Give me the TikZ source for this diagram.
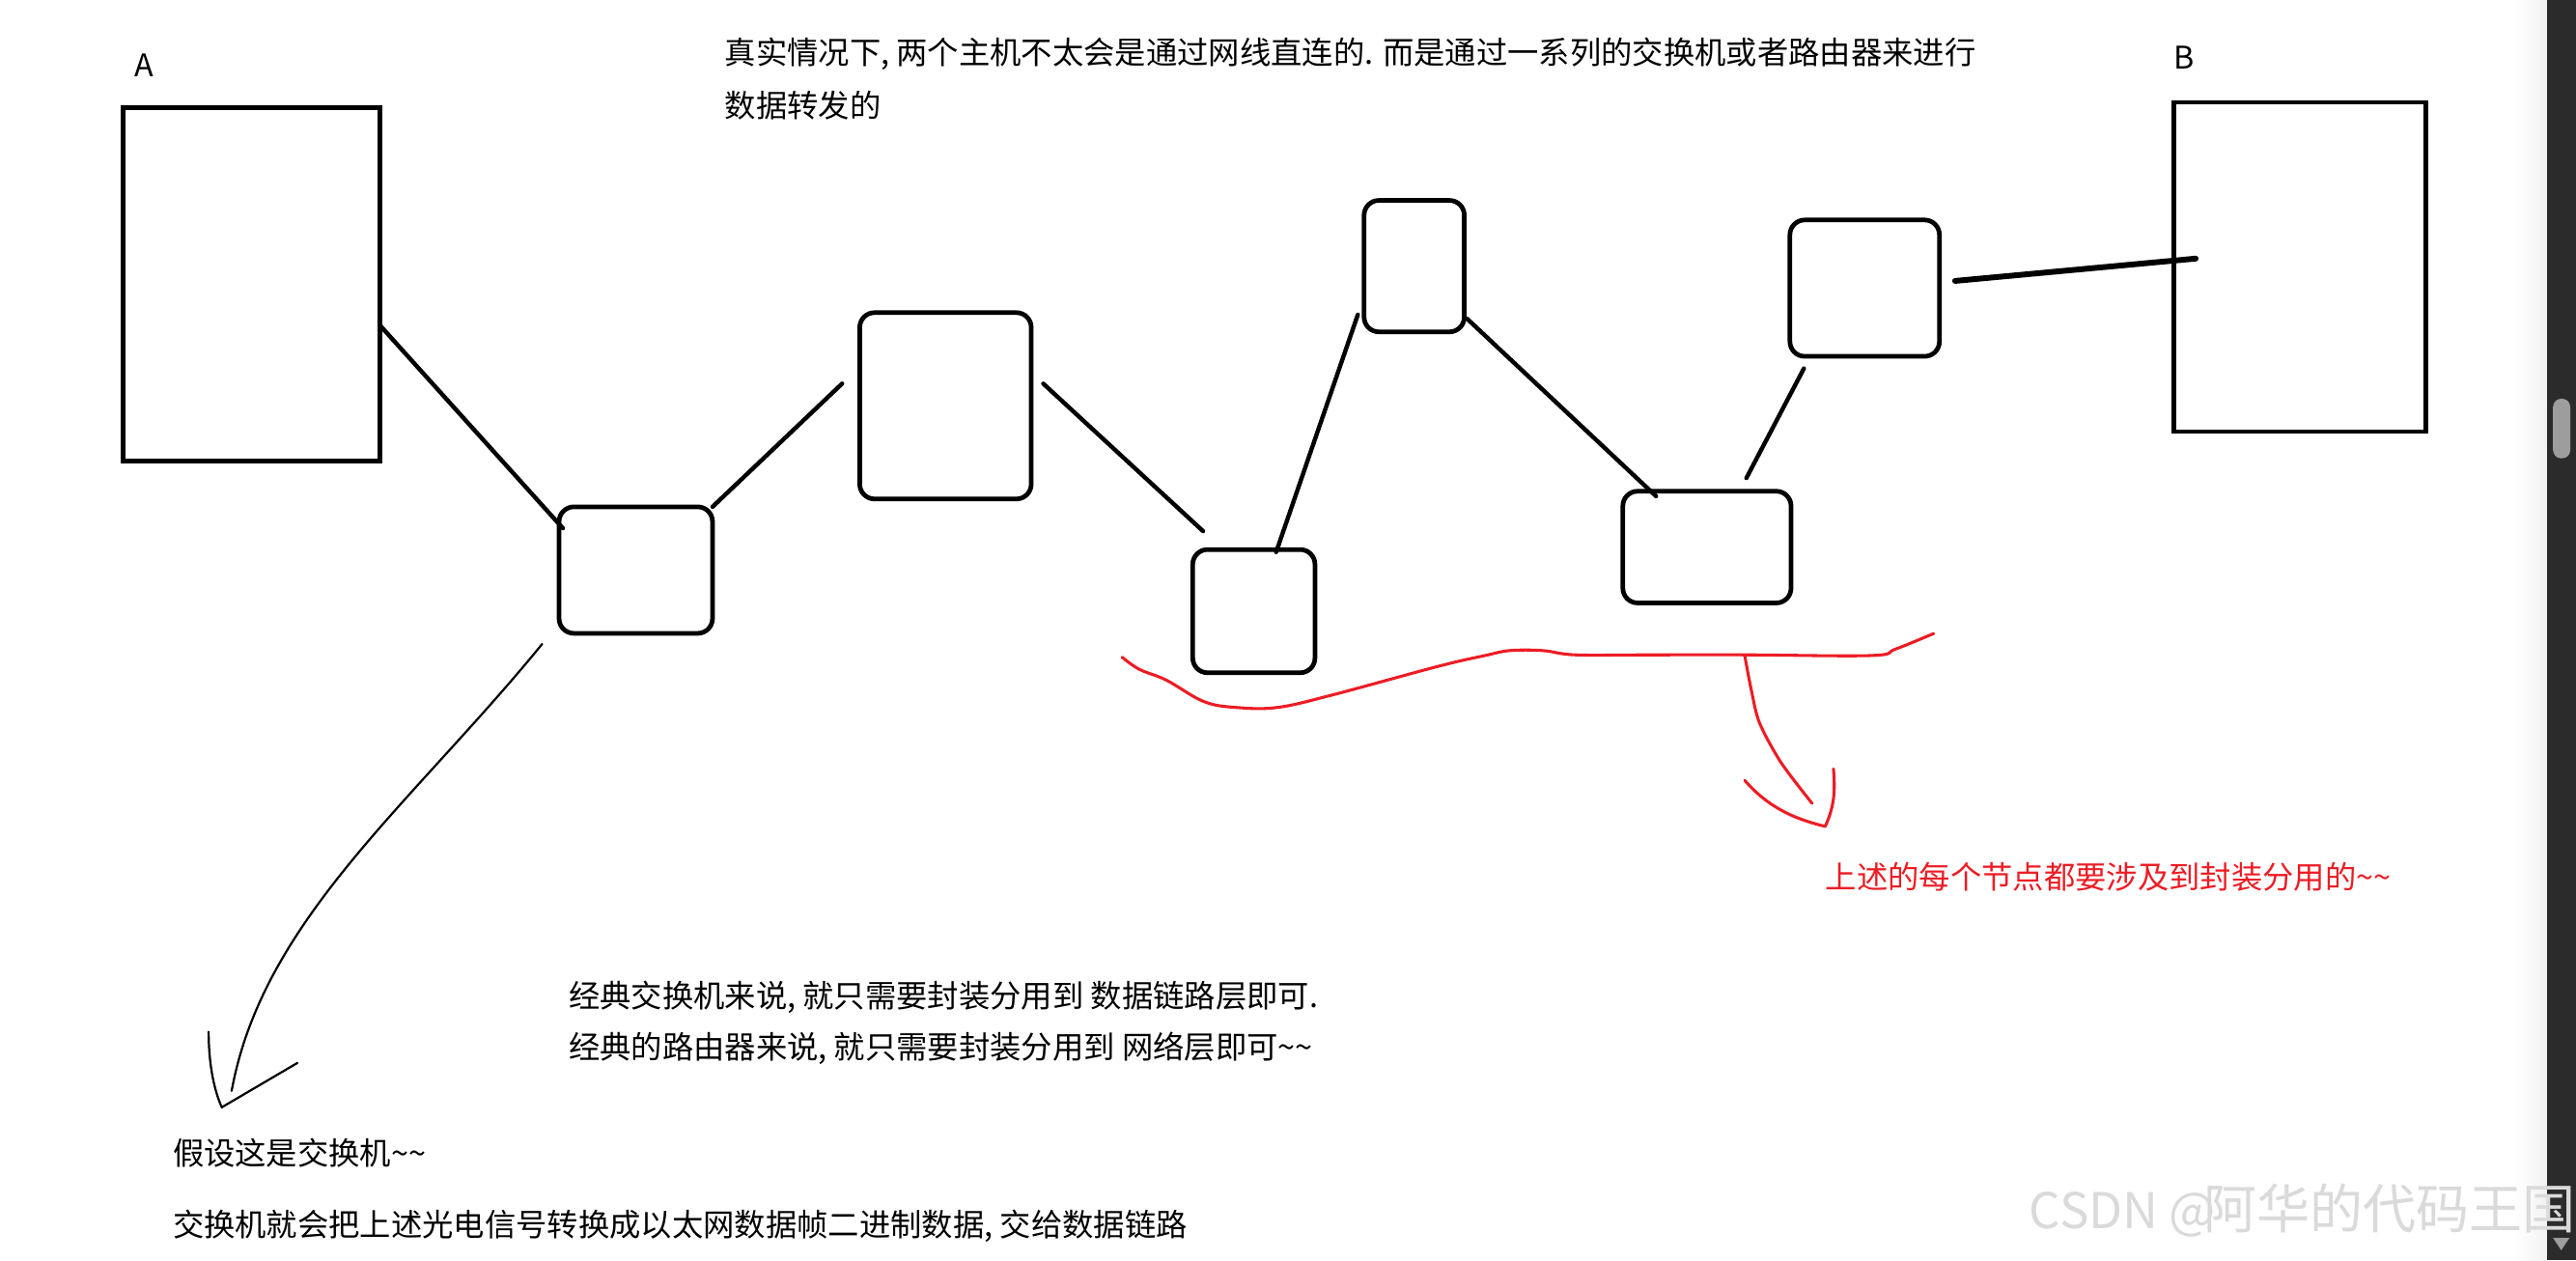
\documentclass[tikz,border=0pt]{standalone}
\usepackage{fontspec}
\setmainfont{Noto Sans CJK SC}
\usetikzlibrary{calc}
\definecolor{pred}{RGB}{237,28,36}
\definecolor{sbar}{RGB}{43,43,43}
\definecolor{sthumb}{RGB}{157,157,157}
\definecolor{wmgray}{RGB}{218,218,218}
\begin{document}
\begin{tikzpicture}[x=1pt,y=-1pt,
  hostbox/.style={draw, line width=2.8pt, inner sep=0pt, outer sep=0pt},
  netbox/.style={draw, line width=2.8pt, rounded corners=9pt, inner sep=0pt, outer sep=0pt},
  link/.style={line width=2.6pt, line cap=round},
  note/.style={anchor=west, inner sep=0pt, font=\fontsize{19}{32}\selectfont},
  rednote/.style={note, text=pred},
  redpen/.style={pred, line width=1.8pt, line cap=round, line join=round},
  blackpen/.style={black, line width=1.3pt, line cap=round, line join=round}
]
\fill[white] (0,0) rectangle (1568,767);
\useasboundingbox (0,0) rectangle (1568,767);

% hosts
\node[hostbox, minimum width=156.5pt, minimum height=215pt] (A) at (153,173) {};
\node[hostbox, minimum width=153.4pt, minimum height=200.4pt] (B) at (1400,162.5) {};
\node[note] (la) at (82,40) {A};
\node[note] (lb) at (1323,35) {B};

% switches / routers
\node[netbox, minimum width=93.4pt, minimum height=77pt] (sw1) at (387,347) {};
\node[netbox, minimum width=104.4pt, minimum height=113.4pt] (r1) at (575.5,247) {};
\node[netbox, minimum width=74.4pt, minimum height=75pt] (n3) at (763.2,372) {};
\node[netbox, minimum width=61pt, minimum height=80pt] (n4) at (860.8,162) {};
\node[netbox, minimum width=102.4pt, minimum height=68pt] (n5) at (1039,333) {};
\node[netbox, minimum width=91pt, minimum height=83pt] (n6) at (1135,175.4) {};

% links
\draw[link] ([yshift=-25pt]A.east) -- ([xshift=2.3pt,yshift=-13pt]sw1.north west);
\draw[link] (sw1.north east) -- ([xshift=-10.7pt,yshift=13.5pt]r1.west);
\draw[link] ([xshift=7.3pt,yshift=13.5pt]r1.east) -- ([xshift=6.3pt,yshift=11.2pt]n3.north west);
\draw[link] ([xshift=13.6pt,yshift=-1.5pt]n3.north) -- ([xshift=-3.8pt,yshift=-29.5pt]n4.west);
\draw[link] ([xshift=1.7pt,yshift=-32pt]n4.east) -- ([xshift=20.2pt,yshift=-3pt]n5.north west);
\draw[link] ([xshift=24pt,yshift=8pt]n5.north) -- ([xshift=-37pt,yshift=-7.4pt]n6.south);
\draw[link, line width=3.5pt] ([xshift=9.5pt,yshift=4.4pt]n6.east) -- ([xshift=13.2pt,yshift=5.1pt]B.west);

% texts
\node[note, align=left] (t1) at (441,48) {真实情况下, 两个主机不太会是通过网线直连的. 而是通过一系列的交换机或者路由器来进行\\数据转发的};
\node[rednote] (t2) at (1111,534) {上述的每个节点都要涉及到封装分用的\textasciitilde\textasciitilde};
\node[note] (t3) at (346,607) {经典交换机来说, 就只需要封装分用到 数据链路层即可.};
\node[note] (t4) at (346,638) {经典的路由器来说, 就只需要封装分用到 网络层即可\textasciitilde\textasciitilde};
\node[note] (t5) at (105,702) {假设这是交换机\textasciitilde\textasciitilde};
\node[note] (t6) at (105,746) {交换机就会把上述光电信号转换成以太网数据帧二进制数据, 交给数据链路};

% black arrow from switch to its note
\coordinate (s0) at ([xshift=-10.3pt,yshift=-6.5pt]sw1.south west);
\coordinate (stip) at (135,674);
\draw[blackpen] (s0) .. controls (250,490) and (160,560) .. (141,664);
\draw[blackpen] (127,628) .. controls (127,650) and (131,665) .. (stip) -- (181,647);

% red brace and arrow
\draw[redpen] plot[smooth, tension=0.6] coordinates {(683,400) (693.5,407.4) (710,414) (732.7,427) (752.3,430.6) (777.6,430.6) (811,423) (875.7,405.5) (904,399) (919,396) (939,396) (959,398.6) (1004,398.6) (1064,398.6) (1139,399) (1154,395) (1177,385.6)};
\draw[redpen] plot[smooth] coordinates {(1062,399) (1066,420) (1071,440) (1084,464) (1103,489)};
\coordinate (rtip) at (1111,503);
\draw[redpen] (1062,475) .. controls (1075,490) and (1090,498) .. (rtip) .. controls (1117,490) and (1117,480) .. (1116,468);

% scrollbar
\shade[left color=white, right color=gray!10] (1530,0) rectangle (1550.3,767);
\fill[sbar] (1550.3,0) rectangle (1568,767);
\fill[sthumb, rounded corners=5pt] (1554,242.7) rectangle (1564.5,279);
\fill[sthumb] (1554,753.5) -- (1564,753.5) -- (1559,761) -- cycle;

% watermark (on top)
\node[anchor=west, inner sep=0pt, text=wmgray] (wm) at (1235,737) {\makebox[106pt][l]{\fontsize{30}{30}\selectfont CSDN @}{\fontsize{32.4}{32.4}\selectfont 阿华的代码王国}};
\end{tikzpicture}
\end{document}
